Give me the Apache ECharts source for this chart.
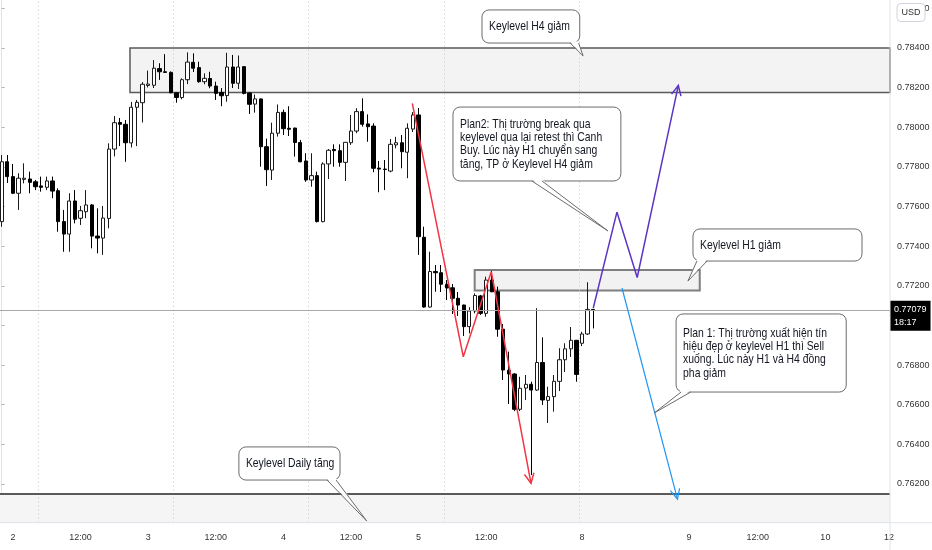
<!DOCTYPE html>
<html><head><meta charset="utf-8">
<script src="https://cdn.jsdelivr.net/npm/echarts@6/dist/echarts.min.js"></script>
<style>html,body{margin:0;padding:0;background:#fff}#c{width:932px;height:550px}</style>
</head><body><div id="c"></div>
<script>
// ---- data (bar index = hourly bar position) ----
const openP = [0.77524,0.77826,0.77751,0.77667,0.77737,0.77739,0.77725,0.77704,0.77697,0.77729,
0.77680,0.77524,0.77461,0.77628,0.77541,0.77574,0.77608,0.77451,0.77441,0.77540,
0.77890,0.78024,0.78015,0.77921,0.78101,0.78124,0.78211,0.78212,0.78296,0.78280,
0.78277,0.78174,0.78150,0.78240,0.78328,0.78301,0.78230,0.78246,0.78208,0.78175,
0.78160,0.78304,0.78222,0.78306,0.78173,0.78117,0.78143,0.77902,0.77784,0.77970,
0.78075,0.77995,0.77996,0.77923,0.77830,0.77734,0.77756,0.77524,0.77815,0.77888,
0.77882,0.77823,0.77922,0.77981,0.78079,0.78017,0.78006,0.77794,0.77789,0.77779,
0.77911,0.77922,0.77874,0.77991,0.78062,0.77445,0.77093,0.77272,0.77266,0.77208,
0.77190,0.77137,0.77103,0.76994,0.77073,0.77149,0.77061,0.77229,0.77170,0.76981,
0.76774,0.76755,0.76577,0.76684,0.76703,0.76674,0.76813,0.76622,0.76641,0.76718,
0.76827,0.76882,0.76925,0.76910,0.76957,0.77081];
const closeP = [0.77826,0.77751,0.77667,0.77743,0.77743,0.77722,0.77700,0.77697,0.77729,0.77678,
0.77524,0.77461,0.77628,0.77536,0.77579,0.77608,0.77451,0.77441,0.77542,0.77890,
0.78023,0.78015,0.77922,0.78101,0.78126,0.78217,0.78218,0.78298,0.78280,0.78277,
0.78174,0.78150,0.78240,0.78329,0.78298,0.78230,0.78247,0.78208,0.78171,0.78159,
0.78304,0.78222,0.78304,0.78171,0.78116,0.78143,0.77902,0.77786,0.77970,0.78075,
0.77993,0.77990,0.77923,0.77826,0.77734,0.77756,0.77524,0.77815,0.77884,0.77882,
0.77823,0.77924,0.77981,0.78079,0.78015,0.78003,0.77793,0.77789,0.77787,0.77914,
0.77922,0.77877,0.77995,0.78062,0.77448,0.77093,0.77272,0.77266,0.77208,0.77189,
0.77137,0.77103,0.76994,0.77073,0.77151,0.77061,0.77229,0.77170,0.76981,0.76775,
0.76755,0.76577,0.76683,0.76703,0.76674,0.76813,0.76624,0.76641,0.76718,0.76827,
0.76882,0.76925,0.76753,0.76957,0.77081,0.77079];
const lowP = [0.77498,0.77719,0.77663,0.77583,0.77717,0.77667,0.77683,0.77675,0.77683,0.77642,
0.77473,0.77372,0.77372,0.77515,0.77507,0.77541,0.77389,0.77364,0.77356,0.77490,
0.77853,0.77905,0.77826,0.77898,0.77905,0.78024,0.78201,0.78198,0.78239,0.78275,
0.78172,0.78124,0.78141,0.78218,0.78279,0.78225,0.78217,0.78197,0.78138,0.78106,
0.78129,0.78198,0.78193,0.78166,0.78067,0.78074,0.77801,0.77704,0.77734,0.77953,
0.77961,0.77956,0.77852,0.77823,0.77725,0.77700,0.77520,0.77520,0.77739,0.77801,
0.77801,0.77729,0.77911,0.77970,0.78003,0.77927,0.77773,0.77672,0.77683,0.77773,
0.77894,0.77793,0.77743,0.77976,0.77356,0.77090,0.77090,0.77170,0.77169,0.77128,
0.77058,0.77048,0.76947,0.76960,0.77061,0.77053,0.77044,0.77168,0.76943,0.76725,
0.76604,0.76568,0.76568,0.76624,0.76245,0.76670,0.76599,0.76508,0.76565,0.76669,
0.76765,0.76841,0.76716,0.76896,0.76952,0.76985];
const highP = [0.77860,0.77860,0.77815,0.77768,0.77818,0.77776,0.77734,0.77751,0.77751,0.77751,
0.77692,0.77583,0.77667,0.77683,0.77603,0.77683,0.77613,0.77591,0.77603,0.77919,
0.78057,0.78047,0.78037,0.78128,0.78138,0.78228,0.78286,0.78339,0.78323,0.78369,
0.78282,0.78176,0.78247,0.78378,0.78373,0.78331,0.78272,0.78280,0.78230,0.78198,
0.78376,0.78365,0.78362,0.78308,0.78178,0.78165,0.78145,0.77943,0.78023,0.78115,
0.78089,0.78106,0.77998,0.77936,0.77869,0.77869,0.77776,0.77823,0.77890,0.77914,
0.77914,0.77926,0.78062,0.78096,0.78146,0.78065,0.78020,0.77830,0.77835,0.77941,
0.77952,0.77961,0.78020,0.78077,0.78097,0.77498,0.77372,0.77305,0.77305,0.77229,
0.77209,0.77169,0.77105,0.77092,0.77162,0.77154,0.77246,0.77276,0.77196,0.77007,
0.76868,0.76759,0.76741,0.76750,0.76716,0.77087,0.76940,0.76691,0.76750,0.76885,
0.76910,0.76992,0.76927,0.76968,0.77218,0.77083];

const sessionBreaks = [6.5, 30.5, 54.5, 78.5, 102.5];
const xTickPos  = [2, 14, 26, 38, 50, 62, 74, 86, 103, 122, 134.2, 146.2, 157.5];
const xTickText = ['2','12:00','3','12:00','4','12:00','5','12:00','8','9','12:00','10','12'];
const yTicks = [0.762,0.764,0.766,0.768,0.770,0.772,0.774,0.776,0.778,0.780,0.782,0.784,0.786];
const countdown = '18:17';
const currency = 'USD';

// visible range of the picture
const xMin = -0.302, xMax = 157.67;
const yMin = 0.760047, yMax = 0.786422;

// zones: [barStart, barEnd, priceTop, priceBottom]
const zoneH4    = [22.77, xMax, 0.78400, 0.78175];
const zoneH1    = [83.95, 123.9, 0.77280, 0.77176];
const zoneDaily = [xMin, xMax, 0.76150, yMin];

// drawn trend paths (bar index, price)
const redX = [72.88, 81.93, 86.9, 93.95],   redY = [0.78121, 0.76842, 0.77271, 0.76203];
const purpleX = [105.0, 109.2, 112.8, 120.1], purpleY = [0.77088, 0.77572, 0.77242, 0.78211];
const blueX = [110.1, 119.95], blueY = [0.77189, 0.76124];

// callouts: box [barL, priceTop, barR, priceBottom], tail base bars, tip [bar, price]
const callouts = [
 {text:'Keylevel H4 giảm', box:[85.25,0.78592,102.6,0.78425], tail:[100.9,102.4], tip:[103.2,0.78360]},
 {text:'Plan2: Thị trường break qua\nkeylevel qua lại retest thì Canh\nBuy. Lúc này H1 chuyển sang\ntăng, TP ở Keylevel H4 giảm', box:[80.1,0.78102,109.9,0.77729], tail:[94.1,95.9], tip:[107.6,0.77477]},
 {text:'Keylevel H1 giảm', box:[122.7,0.77487,152.7,0.77325], tail:[123.4,125.2], tip:[121.8,0.77224]},
 {text:'Plan 1: Thị trường xuất hiện tín\nhiệu đẹp ở keylevel H1 thì Sell\nxuống. Lúc này H1 và H4 đồng\npha giảm', box:[119.7,0.77058,149.9,0.76664], tail:[120.6,122.3], tip:[115.8,0.76558]},
 {text:'Keylevel Daily tăng', box:[42.1,0.76387,60.05,0.76220], tail:[57.75,59.35], tip:[64.8,0.76013]}
];

// ---- chart ----
const FONT = '"Liberation Sans",Arial,sans-serif';
const candles = openP.map((o,i)=>[i, o, closeP[i], lowP[i], highP[i]]);
const lastPrice = closeP[closeP.length-1];
const pairs = (xs, ys) => xs.map((x,i)=>[x, ys[i]]);
const zoneItem = (z, style) => [{xAxis:z[0], yAxis:z[2], itemStyle:style},{xAxis:z[1], yAxis:z[3]}];

const chart = echarts.init(document.getElementById('c'), null, {renderer:'canvas'});
chart.setOption({
  animation:false,
  backgroundColor:'#ffffff',
  grid:{left:0, right:42, top:0, bottom:27.3, containLabel:false, outerBoundsMode:'none'},
  xAxis:{type:'value', min:xMin, max:xMax,
    axisLine:{show:true, onZero:false, lineStyle:{color:'#e0e3eb'}},
    axisTick:{show:false},
    splitLine:{show:false},
    axisLabel:{customValues:xTickPos, formatter:v=>xTickText[xTickPos.indexOf(v)] || '', fontSize:9, color:'#333', margin:10, fontFamily:FONT}
  },
  yAxis:{type:'value', position:'right', min:yMin, max:yMax, scale:true,
    axisLine:{show:true, lineStyle:{color:'#e0e3eb'}},
    axisTick:{show:true, length:3, customValues:yTicks, lineStyle:{color:'#b2b5be'}},
    splitLine:{show:false},
    axisLabel:{customValues:yTicks, formatter:v=>v.toFixed(5), fontSize:9, color:'#333', margin:7, fontFamily:FONT}
  },
  series:[
    {type:'candlestick', data:candles, barWidth:3.8, silent:true,
      itemStyle:{color:'#ffffff', color0:'#000000', borderColor:'#1a1a1a', borderColor0:'#000000', borderWidth:1},
      markArea:{silent:true, data:[
        zoneItem(zoneH4, {color:'#f3f3f3', borderColor:'#5a5a5a', borderWidth:1.5}),
        zoneItem(zoneH1, {color:'#f2f2f2', borderColor:'#7f7f7f', borderWidth:2}),
        zoneItem(zoneDaily, {color:'#f5f5f5', borderWidth:0})
      ]},
      markLine:{silent:true, symbol:['none','none'], animation:false, precision:6,
        data: sessionBreaks.map(b=>({xAxis:b, label:{show:false}, lineStyle:{color:'#c4c4c4', type:[1,3], width:1}}))
          .concat([
            {yAxis:zoneDaily[2], label:{show:false}, lineStyle:{color:'#5a5a5a', type:'solid', width:2}},
            {yAxis:lastPrice, lineStyle:{color:'#a8a8a8', type:'solid', width:1},
            label:{show:true, position:'end', distance:0, offset:[0,6],
              formatter:()=>'{a|'+lastPrice.toFixed(5)+'}\n{b|'+countdown+'}',
              backgroundColor:'#000', padding:[2,4,2,4],
              rich:{a:{color:'#fff', fontSize:9, lineHeight:13, fontFamily:FONT}, b:{color:'#fff', fontSize:9, lineHeight:13, fontFamily:FONT}}}}])
      }
    },
    {type:'line', data:pairs(redX,redY), symbol:'none', silent:true, z:5, lineStyle:{color:'#f23645', width:1.5}},
    {type:'line', data:pairs(purpleX,purpleY), symbol:'none', silent:true, z:5, lineStyle:{color:'#5b36c4', width:1.5}},
    {type:'line', data:pairs(blueX,blueY), symbol:'none', silent:true, z:5, lineStyle:{color:'#2196f3', width:1.2}}
  ]
});

// ---- annotations anchored through the chart's own scales ----
const px = (x,y) => chart.convertToPixel({gridIndex:0}, [x,y]);
function arrowHead(xs, ys, color, w){
  const n = xs.length;
  const a = px(xs[n-2], ys[n-2]), b = px(xs[n-1], ys[n-1]);
  const ang = Math.atan2(b[1]-a[1], b[0]-a[0]), L = 11, h = 0.45;
  const l = [b[0]-L*Math.cos(ang-h), b[1]-L*Math.sin(ang-h)];
  const r = [b[0]-L*Math.cos(ang+h), b[1]-L*Math.sin(ang+h)];
  return {type:'polyline', shape:{points:[l,b,r]}, style:{stroke:color, lineWidth:w, fill:'none'}, z:60, silent:true};
}
function callout(c){
  const p1 = px(c.box[0], c.box[1]), p2 = px(c.box[2], c.box[3]);
  const t1 = px(c.tail[0], c.box[3])[0], t2 = px(c.tail[1], c.box[3])[0];
  const tip = px(c.tip[0], c.tip[1]);
  return [
    {type:'rect', shape:{x:p1[0], y:p1[1], width:p2[0]-p1[0], height:p2[1]-p1[1], r:7}, style:{fill:'#fff', stroke:'#6b6b6b', lineWidth:1}, z:100, silent:true},
    {type:'polygon', shape:{points:[[t1,p2[1]-1.5],tip,[t2,p2[1]-1.5]]}, style:{fill:'#fff'}, z:101, silent:true},
    {type:'polyline', shape:{points:[[t1,p2[1]],tip,[t2,p2[1]]]}, style:{stroke:'#6b6b6b', lineWidth:1, fill:'none'}, z:102, silent:true},
    {type:'text', x:p1[0]+7, y:(p1[1]+p2[1])/2, scaleX:0.8, style:{text:c.text, fontSize:13, fontFamily:FONT, fill:'#131722', align:'left', verticalAlign:'middle', lineHeight:13.3}, z:103, silent:true}
  ];
}
const gx = px(xMax, yMin);
let els = [
  {type:'line', shape:{x1:gx[0], y1:0, x2:gx[0], y2:550}, style:{stroke:'#e0e3eb', lineWidth:1}, z:90, silent:true},
  {type:'line', shape:{x1:0, y1:gx[1], x2:932, y2:gx[1]}, style:{stroke:'#e0e3eb', lineWidth:1}, z:90, silent:true},
  arrowHead(redX, redY, '#f23645', 1.5),
  arrowHead(purpleX, purpleY, '#5b36c4', 1.5),
  arrowHead(blueX, blueY, '#2196f3', 1.2),
  {type:'rect', shape:{x:gx[0]+7, y:3.5, width:28, height:18, r:4}, style:{fill:'#fff', stroke:'#d1d4dc', lineWidth:1}, z:110, silent:true},
  {type:'text', x:gx[0]+21, y:12.5, style:{text:currency, fontSize:9, fontFamily:FONT, fill:'#333', align:'center', verticalAlign:'middle'}, z:111, silent:true}
];
callouts.forEach(c => { els = els.concat(callout(c)); });
chart.setOption({graphic:{elements:els}});
</script>
</body></html>
